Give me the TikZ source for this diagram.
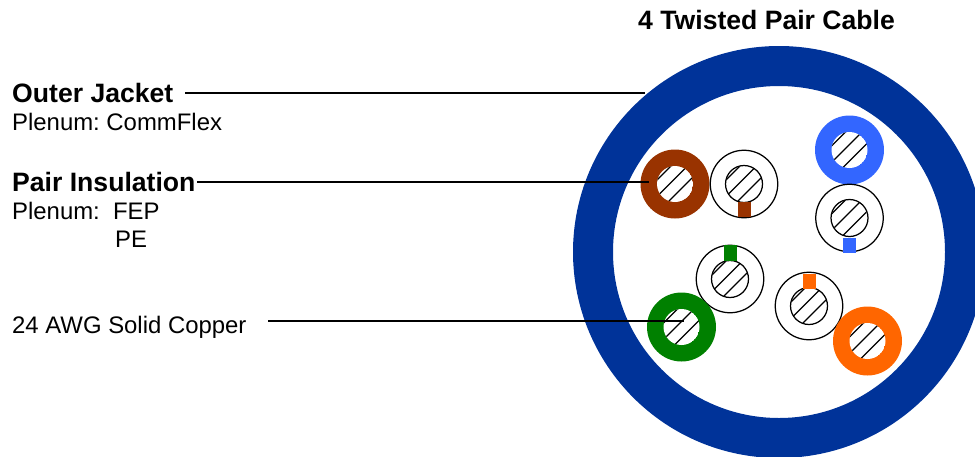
\documentclass[tikz,border=0pt]{standalone}
\usepackage{fontspec}
\setmainfont{Liberation Sans}
\definecolor{jacket}{HTML}{003399}
\definecolor{cbrown}{HTML}{993300}
\definecolor{cblue}{HTML}{3366FF}
\definecolor{cgreen}{HTML}{008000}
\definecolor{corange}{HTML}{FF6600}
\tikzset{
  x=1pt,y=-1pt,
  head/.style={font=\fontsize{26.6}{30}\bfseries\selectfont,anchor=base west,inner sep=0pt},
  plain/.style={font=\fontsize{23.9}{28}\selectfont,anchor=base west,inner sep=0pt},
  leader/.style={draw=black,line width=1.7pt},
  hatchline/.style={draw=black,line width=1.25pt},
  ringdisc/.style={circle,inner sep=0pt,minimum size=69pt,line width=0pt},
}
\newcommand{\corehatch}[4]{%
  \begin{scope}
    \clip (#2,#3) circle[radius=18];
    \fill[white] (#2,#3) circle[radius=18];
    \foreach \k in {-22,-5.5,11,27.5}{
      \path[hatchline,draw] (#2+\k/2-30,#3+\k/2+30) -- (#2+\k/2+30,#3+\k/2-30);
    }
  \end{scope}
  #4
}
\newcommand{\solidwire}[4]{%
  \node[ringdisc,fill=#4] (#1) at (#2,#3) {};
  \corehatch{#1}{#2}{#3}{}
}
\newcommand{\tabwire}[6]{%
  \node[ringdisc,draw=black,line width=1.25pt,fill=white,minimum size=67.5pt] (#1) at (#2,#3) {};
  \corehatch{#1}{#2}{#3}{\draw[black,line width=1.25pt] (#2,#3) circle[radius=18.5];}
  \fill[#4] (#2-6.5,#3+#5) rectangle (#2+6.5,#3+#6);
}
\begin{document}
\frenchspacing
\begin{tikzpicture}
\useasboundingbox (0,0) rectangle (975,456);
\begin{scope}
\clip (0,0) rectangle (975,456);
\draw[jacket,line width=40pt] (779,252) circle[radius=186];
\end{scope}

\solidwire{brownring}{675}{184}{cbrown}
\tabwire{brownwire}{744}{184}{cbrown}{18}{33}
\solidwire{bluering}{849.5}{150}{cblue}
\tabwire{bluewire}{849.5}{218}{cblue}{20}{35}
\tabwire{greenwire}{730}{279}{cgreen}{-34}{-18}
\solidwire{greenring}{681.5}{327}{cgreen}
\tabwire{orangewire}{809}{306}{corange}{-32}{-17}
\solidwire{orangering}{867.5}{341}{corange}

\node[head] (title) at (638,29) {4 Twisted Pair Cable};
\node[head] (jl) at (12,102) {Outer Jacket};
\node[plain] (jm) at (12,130) {Plenum: CommFlex};
\node[head] (il) at (12,191) {Pair Insulation};
\node[plain] (im1) at (12,219) {Plenum:\ \ FEP};
\node[plain] (im2) at (115,247) {PE};
\node[plain] (cl) at (12,333) {24 AWG Solid Copper};

\coordinate (js) at (185,93);
\coordinate (je) at (645,93);
\coordinate (is) at (197,182);
\coordinate (ie) at (649,182);
\coordinate (cs) at (268,321);
\coordinate (ce) at (684,321);
\draw[leader] (js) -- (je);
\draw[leader] (is) -- (ie);
\draw[leader] (cs) -- (ce);
\end{tikzpicture}
\end{document}
